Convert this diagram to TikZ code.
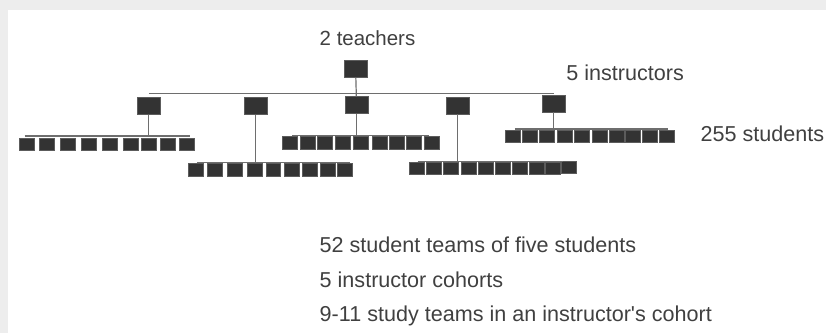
\documentclass[tikz,border=0pt]{standalone}
\usepackage{fontspec}
\setmainfont{Liberation Sans}
\definecolor{boxc}{HTML}{333333}
\definecolor{linec}{HTML}{6E6E6E}
\definecolor{txtc}{HTML}{404040}
\definecolor{bgc}{HTML}{EDEDED}
\begin{document}
\begin{tikzpicture}[x=1pt, y=-1pt,
  stu/.style={rectangle, inner sep=0, minimum width=15pt, minimum height=12.5pt, fill=boxc, draw=boxc!80, line width=.4pt},
  ins/.style={rectangle, inner sep=0, minimum width=23pt, minimum height=17pt, fill=boxc, draw=boxc!80, line width=.4pt},
  lbl/.style={inner sep=0, anchor=base west, text=txtc, font=\fontsize{21.6}{26}\selectfont},
  every path/.style={draw=linec, line width=1.2pt}]
\useasboundingbox (0,0) rectangle (826,332);
\fill[bgc] (0,0) rectangle (826,332);
\fill[white] (8,10) rectangle (826,332);
% labels
\node[lbl, font=\fontsize{20.5}{24}\selectfont] (lteach) at (319,45){2 teachers};
\node[lbl] (linst) at (566,80){5 instructors};
\node[lbl] (lstud) at (700.5,141.5){255 students};
\node[lbl] (lteam) at (319,252){52 student teams of five students};
\node[lbl] (lcoh) at (319,287){5 instructor cohorts};
\node[lbl] (lstudy) at (319,321){9-11 study teams in an instructor\textquotesingle s cohort};
% teachers and instructors
\node[ins] (tid0) at (355.5,68.5){};
\node[ins] (tid1) at (148.5,105.5){};
\node[ins] (tid2) at (255.5,105.5){};
\node[ins] (tid3) at (356.5,104.5){};
\node[ins] (tid4) at (457.5,105){};
\node[ins] (tid5) at (554,103){};
\coordinate (bus1) at (148.5,93);
\coordinate (bus5) at (554,93);
\draw[](bus1) -- (bus5);
\draw[](tid0) -- (tid3);
% cohort 1
\node[stu] (sid1) at (26,144){};
\node[stu] (sid2) at (46,144){};
\node[stu] (sid3) at (67,144){};
\node[stu] (sid4) at (88,144){};
\node[stu] (sid5) at (109,144){};
\node[stu] (sid6) at (130,144){};
\node[stu] (sid7) at (148,144){};
\node[stu] (sid8) at (167,144){};
\node[stu] (sid9) at (186,144){};
\coordinate (bar1a) at (24,135.5);
\coordinate (bar1b) at (190,135.5);
\draw[](bar1a) -- (bar1b);
\draw[](tid1) -- (tid1 |- bar1a);
% cohort 2
\node[stu] (sid10) at (195,169.5){};
\node[stu] (sid11) at (214,169.5){};
\node[stu] (sid12) at (234,169.5){};
\node[stu] (sid13) at (254,169.5){};
\node[stu] (sid14) at (273,169.5){};
\node[stu] (sid15) at (292,169.5){};
\node[stu] (sid16) at (310,169.5){};
\node[stu] (sid17) at (328,169.5){};
\node[stu] (sid18) at (345,169.5){};
\coordinate (bar2a) at (197,162.5);
\coordinate (bar2b) at (350,162.5);
\draw[](bar2a) -- (bar2b);
\draw[](tid2) -- (tid2 |- bar2a);
% cohort 3
\node[stu] (sid19) at (290,142.5){};
\node[stu] (sid20) at (307.5,142.5){};
\node[stu] (sid21) at (325,142.5){};
\node[stu] (sid22) at (343,142.5){};
\node[stu] (sid23) at (361,142.5){};
\node[stu] (sid24) at (379.5,142.5){};
\node[stu] (sid25) at (397,142.5){};
\node[stu] (sid26) at (414,142.5){};
\node[stu] (sid27) at (432,142.5){};
\coordinate (bar3a) at (292,135);
\coordinate (bar3b) at (429,135);
\draw[](bar3a) -- (bar3b);
\draw[](tid3) -- (tid3 |- bar3a);
% cohort 4
\node[stu] (sid28) at (416.5,168){};
\node[stu] (sid29) at (433.5,168){};
\node[stu] (sid30) at (451,168){};
\node[stu] (sid31) at (468.5,168){};
\node[stu] (sid32) at (486,168){};
\node[stu] (sid33) at (503,168){};
\node[stu] (sid34) at (520,168){};
\node[stu] (sid35) at (537,168){};
\node[stu] (sid36) at (553,168){};
\node[stu] (sid37) at (569,167){};
\coordinate (bar4a) at (418,161.5);
\coordinate (bar4b) at (563,161.5);
\draw[](bar4a) -- (bar4b);
\draw[](tid4) -- (tid4 |- bar4a);
% cohort 5
\node[stu] (sid38) at (513,136){};
\node[stu] (sid39) at (530,136){};
\node[stu] (sid40) at (547,136){};
\node[stu] (sid41) at (564.5,136){};
\node[stu] (sid42) at (582,136){};
\node[stu] (sid43) at (599.5,136){};
\node[stu] (sid44) at (616.5,136){};
\node[stu] (sid45) at (633,136){};
\node[stu] (sid46) at (650.5,136){};
\node[stu] (sid47) at (667.5,136){};
\coordinate (bar5a) at (515,128.5);
\coordinate (bar5b) at (668,128.5);
\draw[](bar5a) -- (bar5b);
\draw[](tid5) -- (tid5 |- bar5a);
\end{tikzpicture}
\end{document}
